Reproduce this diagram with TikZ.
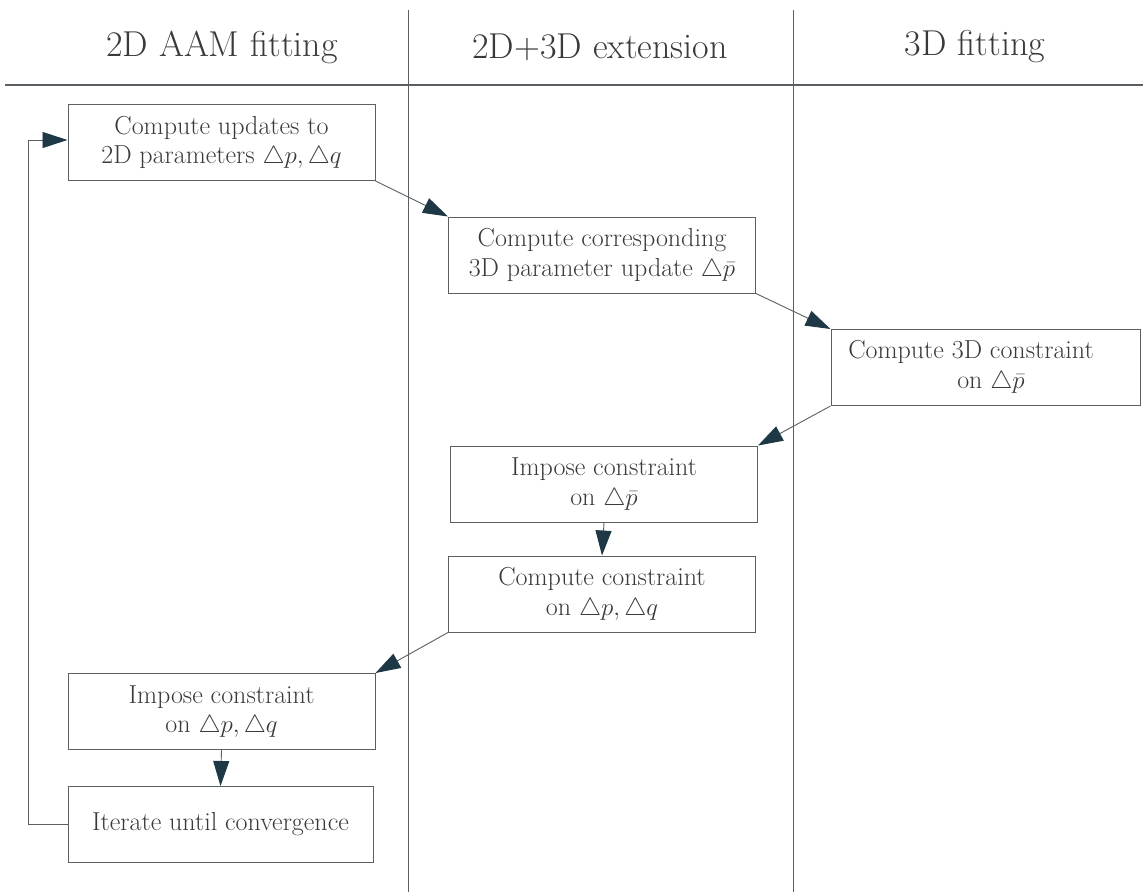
\documentclass[tikz,border=0pt]{standalone}
\usetikzlibrary{arrows.meta}
\definecolor{linegray}{HTML}{5A5F63}
\definecolor{headdark}{HTML}{1E3845}
\definecolor{txt}{HTML}{3A3A3A}
\begin{document}
\begin{tikzpicture}[x=1pt,y=-1pt,
  stepbox/.style={draw=linegray, line width=1pt, minimum width=307pt, minimum height=76pt, inner sep=0pt, align=center, text=txt, font=\fontsize{26}{29.5}\selectfont},
  lane/.style={draw=linegray, line width=0.9pt},
  flow/.style={draw=linegray, line width=0.9pt, -{Triangle[length=25pt,width=16pt,fill=headdark,color=headdark]}},
  head/.style={text=txt, font=\fontsize{36}{40}\selectfont}]
\useasboundingbox (0,0) rectangle (1143,892);
% lanes
\draw[lane] (408,10) -- (408,892);
\draw[lane] (793,10) -- (793,892);
\draw[draw=linegray, line width=2pt] (5,85) -- (1143,85);
\node[head] (h1) at (222,47) {2D AAM fitting};
\node[head] (h2) at (600,47) {2D+3D extension};
\node[head] (h3) at (975,47) {3D fitting};
% boxes
\node[stepbox] (b1) at (221.5,142.5) {Compute updates to\\2D parameters $\triangle p, \triangle q$};
\node[stepbox] (b2) at (602,255) {Compute corresponding\\3D parameter update $\triangle\bar p$};
\node[stepbox, minimum width=309pt] (b3) at (985.5,367.5) {};
\node[text=txt, font=\fontsize{26}{29.5}\selectfont, align=center, inner sep=0pt] (b3t) at (971,367) {Compute 3D constraint\\\hspace*{40pt}on $\triangle\bar p$};
\node[stepbox] (b4) at (604,484) {Impose constraint\\on $\triangle\bar p$};
\node[stepbox] (b5) at (602,594) {Compute constraint\\on $\triangle p, \triangle q$};
\node[stepbox] (b6) at (221.5,711.5) {Impose constraint\\on $\triangle p, \triangle q$};
\node[stepbox, minimum width=305pt] (b7) at (220.5,824.5) {Iterate until convergence};
\coordinate (c1) at (28,824.5);
\coordinate (c2) at (28,140);
% connectors
\draw[flow] (b1.south east) -- (b2.north west);
\draw[flow] (b2.south east) -- (b3.north west);
\draw[flow] (b3.south west) -- (b4.north east);
\draw[flow] (b4.south) -- (b5.north);
\draw[flow] (b5.south west) -- (b6.north east);
\draw[flow] (b6.south) -- (b7.north);
\draw[flow] (b7.west) -- (c1) -- (c2) -- (c2 -| b1.west);
\end{tikzpicture}
\end{document}
